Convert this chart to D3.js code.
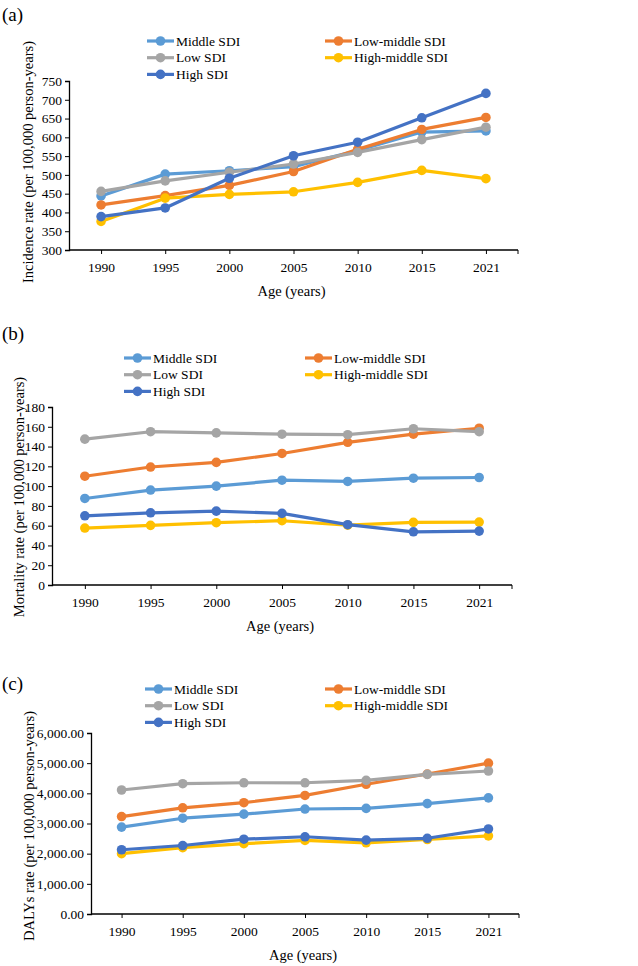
<!DOCTYPE html>
<html>
<head>
<meta charset="utf-8">
<script src="https://cdn.jsdelivr.net/npm/d3@7"></script>
<style>
  body { margin: 0; background: #fff; }
  svg text { fill: #000; }
</style>
</head>
<body>
<div id="chart"></div>
<script>
// Data
const years = ["1990", "1995", "2000", "2005", "2010", "2015", "2021"];
const seriesNames = ["Middle SDI", "Low-middle SDI", "Low SDI", "High-middle SDI", "High SDI"];
const seriesColors = ["#5B9BD5", "#ED7D31", "#A5A5A5", "#FFC000", "#4472C4"];

// (a) Incidence
const incMiddle     = [444, 502, 511, 522, 565, 614, 617];
const incLowMiddle  = [420, 445, 472, 509, 568, 621, 653];
const incLow        = [456, 484, 507, 529, 560, 594, 627];
const incHighMiddle = [376, 438, 448, 455, 480, 512, 490];
const incHigh       = [389, 412, 491, 551, 587, 652, 717];

// (b) Mortality
const morMiddle     = [87.5, 96, 100, 106, 104.7, 108, 108.7];
const morLowMiddle  = [110, 119.3, 124, 133, 144.3, 152.5, 158.5];
const morLow        = [147.5, 155, 153.8, 152.5, 152, 158, 155];
const morHighMiddle = [57.6, 60.3, 63, 65, 60.5, 63.3, 63.6];
const morHigh       = [70, 73, 74.7, 72.4, 61, 53.8, 54.5];

// (c) DALYs
const dalMiddle     = [2880, 3175, 3310, 3480, 3500, 3660, 3850];
const dalLowMiddle  = [3230, 3520, 3690, 3930, 4300, 4640, 5000];
const dalLow        = [4110, 4320, 4350, 4350, 4430, 4630, 4740];
const dalHighMiddle = [2000, 2200, 2330, 2440, 2360, 2470, 2590];
const dalHigh       = [2130, 2270, 2480, 2560, 2450, 2510, 2820];

const yTicksA = [300, 350, 400, 450, 500, 550, 600, 650, 700, 750];
const yTicksB = [0, 20, 40, 60, 80, 100, 120, 140, 160, 180];
const yTicksC = [0, 1000, 2000, 3000, 4000, 5000, 6000];

const W = 638, H = 966;
const FONT = "'Liberation Serif', 'Times New Roman', serif";

const svg = d3.select("#chart")
  .append("svg")
    .attr("width", W)
    .attr("height", H)
    .attr("viewBox", `0 0 ${W} ${H}`)
    .attr("font-family", FONT);

const panels = [
  {
    tag: "(a)", tagY: 21,
    left: 69, right: 518, top: 81, bottom: 250,
    yDomain: [300, 750], yTicks: yTicksA, fmt: d3.format("d"),
    title: "Incidence rate (per 100,000 person-years)", titleX: 28, titleY: 162,
    legendTop: 41, legendX: [147, 325],
    series: [incMiddle, incLowMiddle, incLow, incHighMiddle, incHigh]
  },
  {
    tag: "(b)", tagY: 340,
    left: 52, right: 512, top: 407, bottom: 585,
    yDomain: [0, 180], yTicks: yTicksB, fmt: d3.format("d"),
    title: "Mortality rate (per 100,000 person-years)", titleX: 19, titleY: 497,
    legendTop: 358, legendX: [124, 305],
    series: [morMiddle, morLowMiddle, morLow, morHighMiddle, morHigh]
  },
  {
    tag: "(c)", tagY: 690,
    left: 91, right: 519, top: 733, bottom: 914,
    yDomain: [0, 6000], yTicks: yTicksC, fmt: d3.format(",.2f"),
    title: "DALYs rate (per 100,000 person-years)", titleX: 29, titleY: 826,
    legendTop: 689, legendX: [145, 325],
    series: [dalMiddle, dalLowMiddle, dalLow, dalHighMiddle, dalHigh]
  }
];

panels.forEach(drawPanel);

function styleAxis(ax) {
  ax.attr("font-family", FONT).attr("font-size", 13.5);
  ax.select(".domain").attr("stroke", "#000").attr("stroke-width", 1.3);
  ax.selectAll(".tick line").attr("stroke", "#000").attr("stroke-width", 1);
  ax.selectAll(".tick text").attr("fill", "#000");
}

function drawPanel(p) {
  const g = svg.append("g");

  const xScale = d3.scalePoint()
    .domain(years)
    .range([p.left, p.right])
    .padding(0.5);

  const yScale = d3.scaleLinear()
    .domain(p.yDomain)
    .range([p.bottom, p.top]);

  // panel tag
  g.append("text")
    .attr("x", 2)
    .attr("y", p.tagY)
    .attr("font-size", 19)
    .text(p.tag);

  // Y axis
  g.append("g")
    .attr("transform", `translate(${p.left},0)`)
    .call(d3.axisLeft(yScale).tickValues(p.yTicks).tickFormat(p.fmt).tickSizeOuter(0).tickSize(4).tickPadding(3))
    .call(styleAxis);

  // X axis: ticks under each category plus one at the right end
  const xAxis = g.append("g")
    .attr("transform", `translate(0,${p.bottom})`)
    .call(d3.axisBottom(xScale).tickSizeOuter(0).tickSize(4).tickPadding(8))
    .call(styleAxis);
  xAxis.select(".domain").attr("d", `M${p.left},0H${p.right}`);
  xAxis.append("line")
    .attr("x1", p.right).attr("x2", p.right)
    .attr("y1", 0).attr("y2", 4)
    .attr("stroke", "#000");

  // axis titles
  g.append("text")
    .attr("x", (p.left + p.right) / 2 - 2)
    .attr("y", p.bottom + 46)
    .attr("text-anchor", "middle")
    .attr("font-size", 14.5)
    .text("Age (years)");

  g.append("text")
    .attr("transform", `translate(${p.titleX},${p.titleY}) rotate(-90)`)
    .attr("text-anchor", "middle")
    .attr("dy", "0.35em")
    .attr("font-size", 14.5)
    .text(p.title);

  // lines and markers
  const line = d3.line()
    .x((d, i) => xScale(years[i]))
    .y(d => yScale(d));

  p.series.forEach((values, s) => {
    g.append("path")
      .datum(values)
      .attr("fill", "none")
      .attr("stroke", seriesColors[s])
      .attr("stroke-width", 3.2)
      .attr("stroke-linejoin", "round")
      .attr("d", line);

    g.selectAll(null)
      .data(values)
      .enter()
      .append("circle")
        .attr("cx", (d, i) => xScale(years[i]))
        .attr("cy", d => yScale(d))
        .attr("r", 4.8)
        .attr("fill", seriesColors[s]);
  });

  // legend: two columns, filled row by row
  const rowStep = 16.7;
  seriesNames.forEach((name, s) => {
    const col = s % 2;
    const row = Math.floor(s / 2);
    const lx = p.legendX[col];
    const ly = p.legendTop + row * rowStep;
    const item = g.append("g");
    item.append("line")
      .attr("x1", lx).attr("x2", lx + 27)
      .attr("y1", ly).attr("y2", ly)
      .attr("stroke", seriesColors[s])
      .attr("stroke-width", 3.2);
    item.append("circle")
      .attr("cx", lx + 13.5)
      .attr("cy", ly)
      .attr("r", 4.8)
      .attr("fill", seriesColors[s]);
    item.append("text")
      .attr("x", lx + 29)
      .attr("y", ly)
      .attr("dy", "0.35em")
      .attr("font-size", 13.5)
      .text(name);
  });
}
</script>
</body>
</html>
